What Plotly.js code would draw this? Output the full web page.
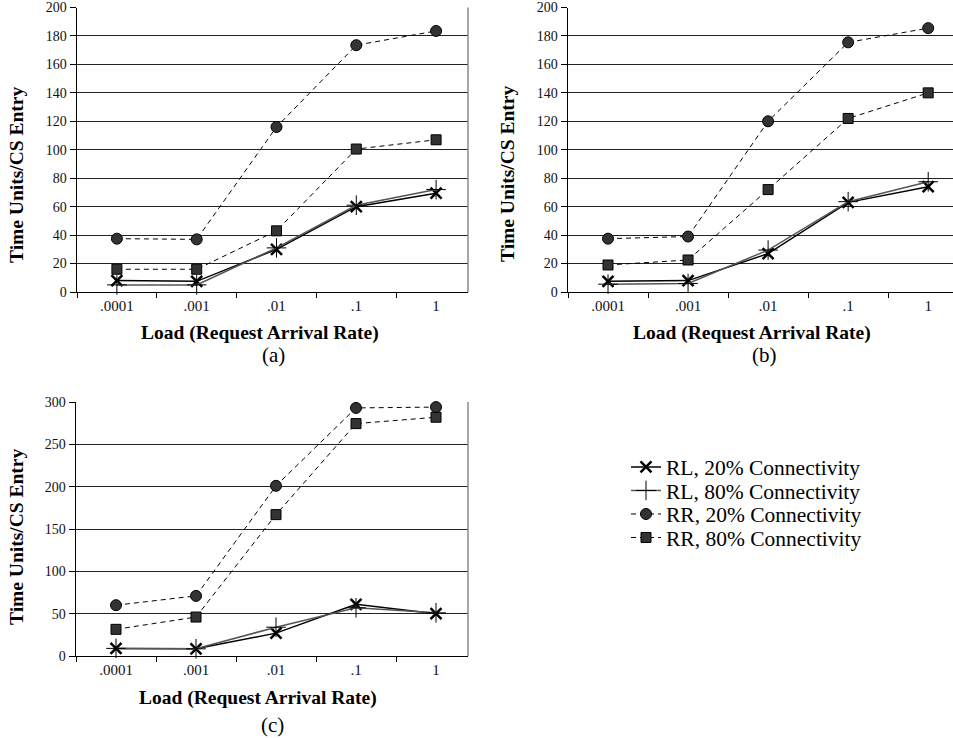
<!DOCTYPE html>
<html>
<head>
<meta charset="utf-8">
<script src="https://cdn.plot.ly/plotly-3.0.1.min.js"></script>
<style>
  html, body { margin: 0; padding: 0; background: #ffffff; }
  #chart { width: 953px; height: 738px; }
</style>
</head>
<body>
<div id="chart"></div>
<script>
// ---- Data ----
const categories = ['.0001', '.001', '.01', '.1', '1'];

const seriesNames = ['RL, 20% Connectivity', 'RL, 80% Connectivity', 'RR, 20% Connectivity', 'RR, 80% Connectivity'];

// Panel (a)
const aRL20 = [8, 7.5, 30, 60, 69.5];
const aRL80 = [5, 5, 31, 61, 72];
const aRR20 = [37.5, 37, 116, 173.5, 183.5];
const aRR80 = [16, 16, 43, 100.5, 107];

// Panel (b)
const bRL20 = [7.5, 8, 27, 63, 74];
const bRL80 = [5.5, 6, 29.5, 63.5, 77.5];
const bRR20 = [37.5, 39, 120, 175.5, 185.5];
const bRR80 = [19, 22.5, 72, 122, 140];

// Panel (c)
const cRL20 = [9, 8.5, 27, 61, 50];
const cRL80 = [9, 8.5, 34, 57, 51];
const cRR20 = [60, 71, 201, 293, 294];
const cRR80 = [31.5, 46, 167, 274.5, 282];

const yTicksAB = [0, 20, 40, 60, 80, 100, 120, 140, 160, 180, 200];
const yTicksC = [0, 50, 100, 150, 200, 250, 300];

const panelLabels = ['(a)', '(b)', '(c)'];
const xTitle = 'Load (Request Arrival Rate)';
const yTitle = 'Time Units/CS Entry';

// ---- Styles ----
const W = 953, H = 738;
const px = v => v / W;
const py = v => 1 - v / H;
const serif = "'Liberation Serif', 'Times New Roman', Times, serif";

const styles = [
  { mode: 'lines+markers', line: { color: '#000000', width: 1.5 },
    marker: { symbol: 'x-thin', size: 11, color: '#000000', line: { color: '#000000', width: 2.5 } } },
  { mode: 'lines+markers', line: { color: '#555555', width: 1.5 },
    marker: { symbol: 'cross-thin', size: 14, color: '#000000', line: { color: '#000000', width: 1 } } },
  { mode: 'lines+markers', line: { color: '#000000', width: 1, dash: '5px,4px' },
    marker: { symbol: 'circle', size: 11, color: '#333333', line: { color: '#000000', width: 1 } } },
  { mode: 'lines+markers', line: { color: '#000000', width: 1, dash: '5px,4px' },
    marker: { symbol: 'square', size: 10, color: '#333333', line: { color: '#000000', width: 1 } } }
];

const legendIds = ['legend', 'legend2', 'legend3', 'legend4'];
const legendRowsY = [467, 490.5, 514, 537.5];

const panels = [
  { xa: 'x', ya: 'y', data: [aRL20, aRL80, aRR20, aRR80], legend: true },
  { xa: 'x2', ya: 'y2', data: [bRL20, bRL80, bRR20, bRR80], legend: false },
  { xa: 'x3', ya: 'y3', data: [cRL20, cRL80, cRR20, cRR80], legend: false }
];

const traces = [];
panels.forEach(p => {
  p.data.forEach((vals, i) => {
    traces.push(Object.assign({
      type: 'scatter',
      x: categories,
      y: vals,
      xaxis: p.xa,
      yaxis: p.ya,
      name: seriesNames[i],
      legendgroup: 'g' + i,
      legend: legendIds[i],
      showlegend: p.legend,
      cliponaxis: false
    }, JSON.parse(JSON.stringify(styles[i]))));
  });
});

function xAxis(domain, range, anchor) {
  return {
    domain: domain, anchor: anchor, type: 'category', range: range,
    showline: true, linecolor: '#000000', linewidth: 1,
    ticks: 'outside', tickson: 'boundaries', ticklen: 5, tickcolor: '#000000', tickwidth: 1,
    showgrid: false, zeroline: false,
    tickfont: { family: serif, size: 15, color: '#111111' }
  };
}
function yAxis(domain, range, tickvals, anchor) {
  return {
    domain: domain, anchor: anchor, range: range, tickvals: tickvals,
    showline: true, linecolor: '#000000', linewidth: 1.5,
    ticks: 'outside', ticklen: 6, tickcolor: '#000000', tickwidth: 1,
    showgrid: true, gridcolor: '#222222', gridwidth: 1, zeroline: false,
    tickfont: { family: serif, size: 14, color: '#111111' }
  };
}

const titleFont = { family: serif, size: 19.5, color: '#000000', weight: 'bold' };
const capFont = { family: serif, size: 21, color: '#000000' };

const annotations = [
  { text: yTitle, x: px(16), y: py(175), textangle: -90, font: titleFont },
  { text: yTitle, x: px(507), y: py(174), textangle: -90, font: titleFont },
  { text: yTitle, x: px(16), y: py(537), textangle: -90, font: titleFont },
  { text: xTitle, x: px(260), y: py(333), font: titleFont },
  { text: xTitle, x: px(752), y: py(333), font: titleFont },
  { text: xTitle, x: px(258), y: py(698), font: titleFont },
  { text: panelLabels[0], x: px(273), y: py(355), font: capFont },
  { text: panelLabels[1], x: px(764), y: py(355), font: capFont },
  { text: panelLabels[2], x: px(272), y: py(725), font: capFont }
].map(a => Object.assign({ xref: 'paper', yref: 'paper', showarrow: false, xanchor: 'center', yanchor: 'middle' }, a));

const shapes = [
  { type: 'line', xref: 'x domain', yref: 'y domain', x0: 1, x1: 1, y0: 0, y1: 1, line: { color: '#888888', width: 1.5 } },
  { type: 'line', xref: 'x3 domain', yref: 'y3 domain', x0: 1, x1: 1, y0: 0, y1: 1, line: { color: '#888888', width: 1.5 } }
];

const layout = {
  width: W, height: H,
  margin: { l: 0, r: 0, t: 0, b: 0 },
  paper_bgcolor: '#ffffff', plot_bgcolor: '#ffffff',
  font: { family: serif, color: '#000000' },
  xaxis: xAxis([px(77), px(468)], [-0.5, 4.4], 'y'),
  yaxis: yAxis([py(292), py(7.5)], [0, 200], yTicksAB, 'x'),
  xaxis2: xAxis([px(568), 1], [-0.5, 4.31], 'y2'),
  yaxis2: yAxis([py(292), py(7.5)], [0, 200], yTicksAB, 'x2'),
  xaxis3: xAxis([px(76), px(468)], [-0.5, 4.4], 'y3'),
  yaxis3: yAxis([py(656), py(402)], [0, 300], yTicksC, 'x3'),
  showlegend: true,
  annotations: annotations,
  shapes: shapes
};
legendIds.forEach((id, i) => {
  layout[id] = {
    x: px(626), y: py(legendRowsY[i]), xanchor: 'left', yanchor: 'middle',
    font: { family: serif, size: 21.5, color: '#000000' },
    bgcolor: 'rgba(0,0,0,0)', borderwidth: 0, tracegroupgap: 0
  };
});

Plotly.newPlot('chart', traces, layout, { displayModeBar: false, staticPlot: true });
</script>
</body>
</html>
